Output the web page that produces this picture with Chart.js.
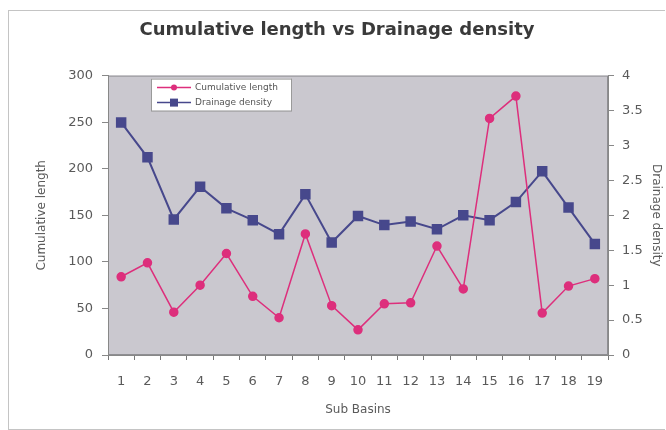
<!DOCTYPE html>
<html>
<head>
<meta charset="utf-8">
<script src="https://cdn.jsdelivr.net/npm/chart.js@4.4.1/dist/chart.umd.min.js"></script>
<style>
  html, body { margin: 0; padding: 0; background: #fff; }
  #frame {
    position: absolute; left: 8px; top: 10px; width: 656px; height: 418px;
    border: 1px solid #c4c4c4; border-right: none;
  }
  #wrap { position: absolute; left: 0; top: 0; width: 656px; height: 418px; }
</style>
</head>
<body>
<div id="frame"><div id="wrap"><canvas id="chart"></canvas></div></div>
<script>
// sub basins along x
const basins = ['1','2','3','4','5','6','7','8','9','10','11','12','13','14','15','16','17','18','19'];
// cumulative length (left axis)
const cumLength = [84, 99, 46, 75, 109, 63, 40, 130, 53, 27, 55, 56, 117, 71, 254, 278, 45, 74, 82];
// drainage density (right axis)
const drainDensity = [3.33, 2.83, 1.94, 2.41, 2.1, 1.93, 1.73, 2.3, 1.61, 1.99, 1.86, 1.91, 1.8, 2.0, 1.93, 2.19, 2.63, 2.11, 1.59];

const pink = '#dd2f7c';
const navy = '#47488c';
const tickColor = '#5a5a5a';
const fam = '"DejaVu Sans", Verdana, sans-serif';

// gray plot area + border
const plotBg = {
  id: 'plotBg',
  beforeDraw(chart) {
    const { ctx, chartArea: a } = chart;
    ctx.save();
    ctx.fillStyle = '#cac8cf';
    ctx.fillRect(a.left, a.top, a.right - a.left, a.bottom - a.top);
    ctx.strokeStyle = '#8e8e92';
    ctx.lineWidth = 1;
    ctx.strokeRect(a.left + 0.5, a.top + 0.5, a.right - a.left - 1, a.bottom - a.top - 1);
    ctx.restore();
  }
};

// legend box drawn inside the plot, top-left
const boxLegend = {
  id: 'boxLegend',
  afterDraw(chart) {
    const { ctx, chartArea: a } = chart;
    const x = a.left + 43, y = a.top + 3, w = 140, h = 32;
    ctx.save();
    ctx.fillStyle = '#ffffff';
    ctx.fillRect(x, y, w, h);
    ctx.strokeStyle = '#9a9a9a';
    ctx.lineWidth = 1;
    ctx.strokeRect(x + 0.5, y + 0.5, w, h);
    chart.data.datasets.forEach((ds, i) => {
      const cy = y + 9 + i * 15;
      ctx.strokeStyle = ds.borderColor;
      ctx.lineWidth = 1.5;
      ctx.beginPath();
      ctx.moveTo(x + 6, cy);
      ctx.lineTo(x + 40, cy);
      ctx.stroke();
      ctx.fillStyle = ds.pointBackgroundColor;
      if (ds.pointStyle === 'rect') {
        ctx.fillRect(x + 19, cy - 4, 8, 8);
      } else {
        ctx.beginPath();
        ctx.arc(x + 23, cy, 3, 0, Math.PI * 2);
        ctx.fill();
      }
      ctx.fillStyle = '#555';
      ctx.font = '9px ' + fam;
      ctx.textBaseline = 'middle';
      ctx.fillText(ds.label, x + 44, cy);
    });
    ctx.restore();
  }
};

new Chart(document.getElementById('chart'), {
  type: 'line',
  data: {
    labels: basins,
    datasets: [{
      label: 'Cumulative length',
      data: cumLength,
      yAxisID: 'y',
      borderColor: pink,
      backgroundColor: pink,
      pointBackgroundColor: pink,
      pointBorderColor: pink,
      pointStyle: 'circle',
      pointRadius: 4,
      borderWidth: 1.5,
      tension: 0
    }, {
      label: 'Drainage density',
      data: drainDensity,
      yAxisID: 'y1',
      borderColor: navy,
      backgroundColor: navy,
      pointBackgroundColor: navy,
      pointBorderColor: navy,
      pointStyle: 'rect',
      pointRadius: 6,
      borderWidth: 2,
      tension: 0
    }]
  },
  options: {
    responsive: true,
    maintainAspectRatio: false,
    animation: false,
    layout: { padding: 0 },
    plugins: {
      legend: { display: false },
      tooltip: { enabled: false },
      title: {
        display: true,
        text: 'Cumulative length vs Drainage density',
        color: '#3a3a3a',
        font: { family: fam, size: 18, weight: 'bold' },
        padding: { top: 9, bottom: 34 }
      }
    },
    scales: {
      x: {
        offset: true,
        grid: { drawOnChartArea: false, drawTicks: true, tickLength: 5, color: '#777', offset: true },
        border: { color: '#888' },
        ticks: { color: tickColor, padding: 14, maxRotation: 0, autoSkip: false,
          font: { family: fam, size: 13 } },
        title: { display: true, text: 'Sub Basins', color: tickColor,
          font: { family: fam, size: 12 },
          padding: { top: 4, bottom: 12 } },
        afterFit(s) { s.height = 74; }
      },
      y: {
        position: 'left',
        min: 0, max: 300,
        ticks: { stepSize: 50, color: tickColor, padding: 9,
          font: { family: fam, size: 13 } },
        grid: { drawOnChartArea: false, drawTicks: true, tickLength: 6, color: '#888' },
        border: { color: '#888' },
        title: { display: true, text: 'Cumulative length', color: tickColor,
          font: { family: fam, size: 12 },
          padding: { top: 26, bottom: 0 } },
        afterFit(s) { s.width = 99; }
      },
      y1: {
        position: 'right',
        min: 0, max: 4,
        ticks: { stepSize: 0.5, color: tickColor, padding: 8,
          font: { family: fam, size: 13 },
          callback: v => String(v) },
        grid: { drawOnChartArea: false, drawTicks: true, tickLength: 6, color: '#888' },
        border: { color: '#888' },
        title: { display: true, text: 'Drainage density', color: tickColor,
          font: { family: fam, size: 12 },
          padding: { top: 2, bottom: 0 } },
        afterFit(s) { s.width = 57; }
      }
    }
  },
  plugins: [plotBg, boxLegend]
});
</script>
</body>
</html>
